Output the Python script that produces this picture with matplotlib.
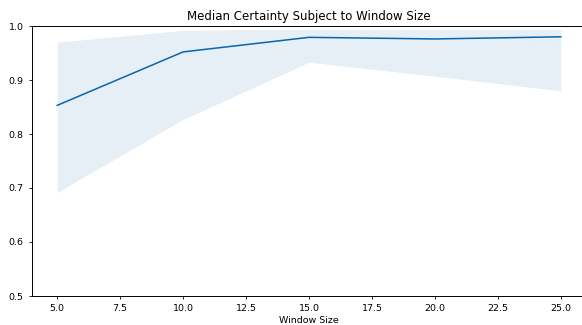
import numpy as np
import matplotlib.pyplot as plt

window_size = [5, 10, 15, 20, 25]
median_certainty = [0.853, 0.952, 0.979, 0.976, 0.980]
upper_certainty = [0.970, 0.992, 0.994, 0.994, 0.994]
lower_certainty = [0.692, 0.827, 0.933, 0.907, 0.880]

color = "#0a64ad"

fig = plt.figure(figsize=(5.82, 3.25), dpi=100)
ax = fig.add_axes([32 / 582, 1 - 296 / 325, 554 / 582, 270 / 325])

ax.fill_between(window_size, lower_certainty, upper_certainty, color=color, alpha=0.1, linewidth=0)
ax.plot(window_size, median_certainty, color=color, linewidth=1.1)

ax.set_xlim(4, 26)
ax.set_ylim(0.5, 1.0)
ax.set_xticks([5, 7.5, 10, 12.5, 15, 17.5, 20, 22.5, 25])
ax.tick_params(labelsize=6.8, length=2.5, width=0.6)
for s in ax.spines.values():
    s.set_linewidth(0.7)

ax.set_title("Median Certainty Subject to Window Size", fontsize=8.5, pad=4)
ax.set_xlabel("Window Size", fontsize=6.8, labelpad=2)

fig.savefig("out.png", dpi=100)
